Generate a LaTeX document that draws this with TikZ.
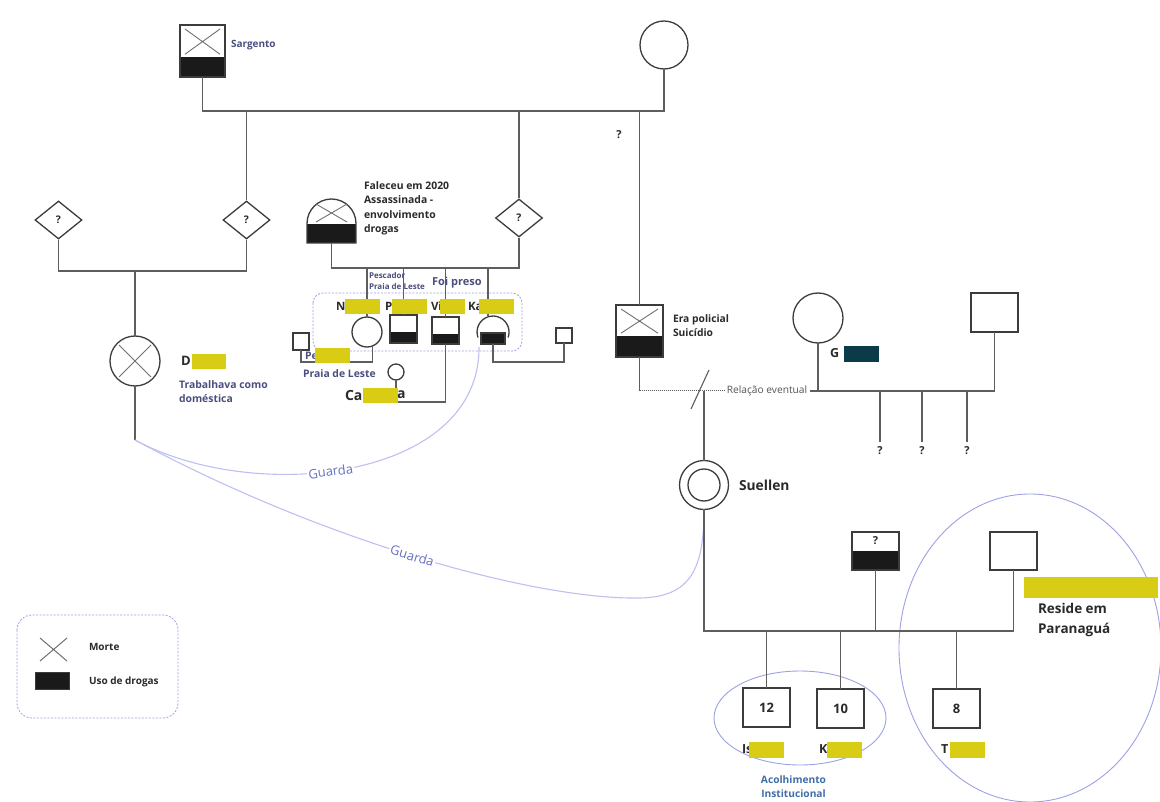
\documentclass[tikz,border=0pt]{standalone}
\usepackage{fontspec}
\setmainfont{Open Sans}
\usetikzlibrary{shapes.geometric,calc}
\definecolor{lnc}{HTML}{5E5E5E}
\definecolor{shc}{HTML}{3C3C3C}
\definecolor{crossc}{HTML}{707070}
\definecolor{txc}{HTML}{2A2A2A}
\definecolor{bgc}{HTML}{4A4F80}
\definecolor{acc}{HTML}{3F6EA8}
\definecolor{gdc}{HTML}{BEC1F0}
\definecolor{gtc}{HTML}{6670C4}
\definecolor{grpc}{HTML}{9CA2E4}
\definecolor{ylw}{HTML}{D9CC14}
\definecolor{tealc}{HTML}{0B3A48}
\definecolor{blk}{HTML}{1A1A1A}
\definecolor{relc}{HTML}{555555}
\tikzset{
 ln/.style={draw=lnc,line width=1.1pt},
 pers/.style={draw=shc,line width=1.3pt,fill=white,inner sep=0pt,outer sep=0pt},
 drugsq/.style={path picture={\fill[blk] (path picture bounding box.south west) rectangle ($(path picture bounding box.south east)!#1!(path picture bounding box.north east)$);}},
 deaddrug/.style={path picture={
   \fill[blk] (path picture bounding box.south west) rectangle ($(path picture bounding box.south east)!#1!(path picture bounding box.north east)$);
   \coordinate (ppA) at (path picture bounding box.north west);
   \coordinate (ppB) at (path picture bounding box.north east);
   \coordinate (ppC) at ($(path picture bounding box.south west)!#1!(path picture bounding box.north west)$);
   \coordinate (ppD) at ($(path picture bounding box.south east)!#1!(path picture bounding box.north east)$);
   \draw[crossc,line width=0.9pt] ($(ppA)+(5,4)$) -- ($(ppD)+(-5,-3)$) ($(ppB)+(-5,4)$) -- ($(ppC)+(5,-3)$);}},
 deadcirc/.style={path picture={\draw[crossc,line width=0.9pt] ($(path picture bounding box.center)+(-16,-16)$) -- ($(path picture bounding box.center)+(16,16)$) ($(path picture bounding box.center)+(16,-16)$) -- ($(path picture bounding box.center)+(-16,16)$);}},
 twin/.style={path picture={\draw[shc,line width=1.3pt] (path picture bounding box.center) circle (16);}},
 dia/.style={diamond,draw=shc,line width=1.3pt,fill=white,minimum width=47pt,minimum height=38pt,inner sep=0pt,font=\fontsize{10.5}{12}\selectfont\bfseries,text=txc},
 qmk/.style={font=\fontsize{11}{13}\selectfont\bfseries,text=txc,inner sep=0pt,outer sep=5pt},
 lab/.style={inner sep=0pt,outer sep=0pt,align=left},
 fdk/.style={lab,text=txc,font=\fontsize{10.4}{14.5}\selectfont\bfseries},
 fbg/.style={lab,text=bgc,font=\fontsize{10.4}{14}\selectfont\bfseries},
 fname/.style={lab,text=txc,font=\fontsize{11.5}{13}\selectfont\bfseries},
 fkid/.style={lab,text=txc,font=\fontsize{12.5}{14}\selectfont\bfseries,anchor=west},
 fleg/.style={lab,text=txc,font=\fontsize{10}{12}\selectfont\bfseries,anchor=west},
 numbox/.style={pers,minimum width=47pt,minimum height=39pt,font=\fontsize{13}{15}\selectfont\bfseries,text=txc},
 gd/.style={draw=gdc,line width=1.1pt},
 gl/.style={text=gtc,fill=white,inner sep=1.5pt,font=\fontsize{13}{15}\selectfont},
 grpbox/.style={draw=grpc,line width=0.8pt,dash pattern=on 2pt off 1.5pt},
 ellc/.style={draw=grpc,line width=0.9pt},
 hid/.style={fill=ylw},
}
\begin{document}
\begin{tikzpicture}[x=1pt,y=-1pt]
\useasboundingbox[fill=white] (0,0) rectangle (1160,802);

% ---------- enclosures ----------
\draw[grpbox,rounded corners=10pt] (313,293) rectangle (522,351);
\draw[grpbox,rounded corners=15pt] (17,615) rectangle (178,718);
\draw[ellc] (800,718) ellipse [x radius=86, y radius=47];
\draw[ellc] (1030,648) ellipse [x radius=131, y radius=154];

% ---------- persons ----------
\node[pers,minimum width=45pt,minimum height=52pt,deaddrug=0.38] (sarg) at (202.5,51) {};
\node[pers,circle,minimum size=48pt] (topF) at (664,45) {};
\node[dia] (d1) at (58.5,220) {?};
\node[dia] (d2) at (246.5,220) {?};
\node[dia] (d3) at (519,218) {?};
\node[pers,circle,minimum size=50pt,deadcirc] (dcirc) at (135,361) {};
\node[pers,minimum width=47pt,minimum height=52pt,deaddrug=0.4] (pol) at (639.5,331) {};

% dome shape (assassinated)
\node[inner sep=0pt,minimum width=49pt,minimum height=44pt] (ass) at (331.5,221) {};
\fill[blk] (307,224) rectangle (356,243);
\draw[shc,line width=1.3pt] (307,243) -- (307,223.5) arc[start angle=180,end angle=360,radius=24.5] -- (356,243) -- cycle;
\draw[crossc,line width=0.9pt] (316,204) -- (347,222) (347,204) -- (316,222);

% children of assassinated
\node[pers,circle,minimum size=30pt] (ncirc) at (367,332) {};
\node[pers,minimum width=27pt,minimum height=28pt,drugsq=0.38] (psq) at (403.5,329) {};
\node[pers,minimum width=27pt,minimum height=27pt,drugsq=0.37] (vsq) at (445.5,330.5) {};
\node[inner sep=0pt,minimum width=32pt,minimum height=27pt] (ka) at (493,330) {};
\fill[blk] (481,333) rectangle (505,344);
\draw[shc,line width=1.3pt] (478,337.5) arc[start angle=160,end angle=380,radius=16];
\draw[shc,line width=1.1pt] (481,333) rectangle (505,344);
\node[pers,minimum width=16pt,minimum height=17pt] (sqL) at (301,341.5) {};
\node[pers,minimum width=16pt,minimum height=15pt] (sqR) at (564,335.5) {};
\node[pers,circle,minimum size=16pt] (cac) at (396,372) {};

% right family
\node[pers,circle,minimum size=50pt] (gc) at (818,318) {};
\node[pers,minimum width=47pt,minimum height=39pt] (gsq) at (994.5,312.5) {};
\node[pers,circle,minimum size=49pt,twin] (sue) at (704,485) {};
\node[pers,minimum width=47pt,minimum height=38pt,drugsq=0.5] (qb) at (875.5,551) {};
\node[qmk,outer sep=0pt] (qbt) at (875.5,541) {?};
\node[pers,minimum width=47pt,minimum height=38pt] (rb) at (1013.5,551) {};
\node[numbox] (c12) at (766.5,707.5) {12};
\node[numbox] (c10) at (840.5,708.5) {10};
\node[numbox] (c8) at (956.5,708.5) {8};

% ---------- connectors ----------
\coordinate (bar1) at (0,111);
\coordinate (bar2) at (0,271);
\coordinate (bar3) at (0,268);
\coordinate (bar4) at (0,362);
\coordinate (bar5) at (0,362);
\coordinate (bar6) at (0,402);
\coordinate (relbar) at (0,391);
\coordinate (bar7) at (0,631);
\draw[ln] (sarg.south) |- (bar1 -| topF.south) -- (topF.south);
\draw[ln] (d2.north) -- (d2.north |- bar1);
\draw[ln] (d3.north) -- (d3.north |- bar1);
\draw[ln] (pol.north) -- (pol.north |- bar1);
\draw[ln] (d1.south) |- (bar2 -| d2.south) -- (d2.south);
\draw[ln] (dcirc.north) -- (dcirc.north |- bar2);
\draw[ln] (ass.south) |- (bar3 -| d3.south) -- (d3.south);
\draw[ln] (ncirc.north) -- (ncirc.north |- bar3);
\draw[ln] (psq.north) -- (psq.north |- bar3);
\draw[ln] (vsq.north) -- (vsq.north |- bar3);
\draw[ln] (ka.110) -- (ka.110 |- bar3);
\draw[ln] (ka.south) |- (bar4 -| sqR.south) -- (sqR.south);
\draw[ln] (sqL.south) |- (bar5 -| ncirc.-70) -- (ncirc.-70);
\draw[ln] (cac.south) |- (bar6 -| vsq.south) -- (vsq.south);
\coordinate (gs) at (135,440);
\draw[ln] (dcirc.south) -- (gs);

% relation
\node[inner sep=2.5pt,text=relc,font=\fontsize{10.2}{12}\selectfont] (rel) at (767,391) {Relação eventual};
\draw[ln] (pol.south) -- (pol.south |- relbar);
\draw[draw=lnc,line width=1pt,densely dotted] (pol.south |- relbar) -- (rel.west);
\draw[ln] (rel.east) -- (gc.south |- relbar);
\draw[ln] (gc.south) |- (relbar -| gsq.south) -- (gsq.south);
\draw[ln] (sue.north) -- (sue.north |- relbar);
\draw[ln] (691,409) -- (709,370);
\node[qmk] (q1) at (880,451) {?};
\node[qmk] (q2) at (922,451) {?};
\node[qmk] (q3) at (967,451) {?};
\draw[ln] (q1.north) -- (q1.north |- relbar);
\draw[ln] (q2.north) -- (q2.north |- relbar);
\draw[ln] (q3.north) -- (q3.north |- relbar);

% Guarda
\coordinate (g1e) at (479,347);
\draw[gd] (gs) .. controls (255,505) and (480,480) .. (g1e) node[pos=0.45,sloped,gl] {Guarda};
\draw[gd] (gs) .. controls (330,545) and (540,600) .. (640,598) node[pos=0.48,sloped,gl] {Guarda} .. controls (690,597) and (704,570) .. (sue.south);

% bottom family
\draw[ln] (sue.south) |- (bar7 -| rb.south) -- (rb.south);
\draw[ln] (qb.south) -- (qb.south |- bar7);
\draw[ln] (c12.north) -- (c12.north |- bar7);
\draw[ln] (c10.north) -- (c10.north |- bar7);
\draw[ln] (c8.north) -- (c8.north |- bar7);

% ---------- texts ----------
\node[lab,text=bgc,font=\fontsize{10}{12}\selectfont\bfseries,anchor=west] (tSarg) at (231,45) {Sargento};
\node[qmk,outer sep=0pt] (tq) at (619,135) {?};
\node[fdk,anchor=north west] (tFal) at (364,181.5) {Faleceu em 2020\\Assassinada -\\envolvimento\\drogas};
\node[lab,text=bgc,font=\fontsize{8}{11}\selectfont\bfseries,anchor=north west] (tPesc) at (369,272) {Pescador\\Praia de Leste};
\node[lab,text=bgc,font=\fontsize{11}{13}\selectfont\bfseries,anchor=west] (tFoi) at (432,283) {Foi preso};
\node[fname,anchor=west] (tN) at (336,306) {N};
\node[fname,anchor=west] (tP) at (385,306) {P};
\node[fname,anchor=west] (tVi) at (431,306) {Vi};
\node[fname,anchor=west] (tKa) at (468,306) {Ka};
\node[fbg,anchor=west] (tPe) at (305,356) {Pe};
\node[fbg,anchor=west] (tPraia) at (303,374) {Praia de Leste};
\node[lab,text=txc,font=\fontsize{14}{16}\selectfont\bfseries,anchor=west] (tCa) at (345,395) {Ca};
\node[lab,text=txc,font=\fontsize{14}{16}\selectfont\bfseries,anchor=west] (tCa2) at (397,395) {a};
\node[lab,text=txc,font=\fontsize{13}{15}\selectfont\bfseries,anchor=west] (tD) at (181,361) {D};
\node[fbg,anchor=north west] (tTrab) at (179,380.5) {Trabalhava como\\doméstica};
\node[lab,text=txc,font=\fontsize{10.3}{14}\selectfont\bfseries,anchor=north west] (tEra) at (673,315) {Era policial\\Suicídio};
\node[fkid] (tG) at (830,353) {G};
\node[lab,text=txc,font=\fontsize{13.8}{16}\selectfont\bfseries,anchor=west] (tSue) at (739,485) {Suellen};
\node[fkid] (tIs) at (742,749) {Is};
\node[fkid] (tK) at (819,749) {K};
\node[fkid] (tT) at (941,749) {T};
\node[lab,text=txc,font=\fontsize{13.5}{20}\selectfont\bfseries,anchor=north west] (tRes) at (1038,603) {Reside em\\Paranaguá};
\node[lab,align=center,text=acc,font=\fontsize{10.2}{14}\selectfont\bfseries,anchor=north] (tAcol) at (793.5,775.5) {Acolhimento\\Institucional};

% legend
\draw[crossc,line width=1pt] (40,638) -- (67,661) (67,638) -- (40,661);
\node[fill=blk,draw=shc,minimum width=34pt,minimum height=17pt,inner sep=0pt] (lgd) at (52,680.5) {};
\node[fleg] (tMorte) at (89,647) {Morte};
\node[fleg] (tUso) at (89,682) {Uso de drogas};

% ---------- redaction boxes ----------
\fill[hid] (345,299) rectangle (380,314);
\fill[hid] (392,299) rectangle (427,314);
\fill[hid] (440,299) rectangle (465,314);
\fill[hid] (479,299) rectangle (514,314);
\fill[hid] (315,348) rectangle (350,363);
\fill[hid] (363,388) rectangle (398,403);
\fill[hid] (192,354) rectangle (226,369);
\fill[hid] (749,742) rectangle (784,758);
\fill[hid] (827,742) rectangle (862,758);
\fill[hid] (950,742) rectangle (985,758);
\fill[hid] (1024,577) rectangle (1158,598);
\fill[tealc] (844,346) rectangle (879,362);
\end{tikzpicture}
\end{document}
